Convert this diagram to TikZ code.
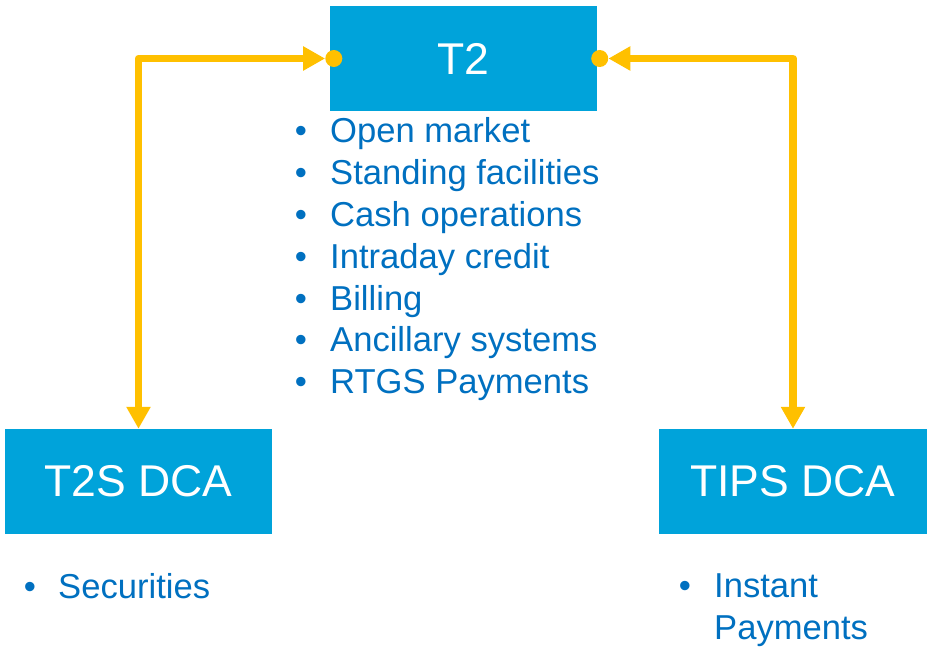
\documentclass[tikz,border=0pt]{standalone}
\usepackage{fontspec}
\setmainfont{Liberation Sans}
\usetikzlibrary{arrows.meta}
\definecolor{boxblue}{RGB}{0,163,218}
\definecolor{txtblue}{RGB}{0,112,192}
\definecolor{conyel}{RGB}{255,192,0}
\begin{document}
\begin{tikzpicture}[x=1pt,y=-1pt,
  sysbox/.style={fill=boxblue,draw=none,minimum width=267pt,minimum height=105pt,inner sep=0pt,
    text=white,font=\fontsize{44.5}{52}\selectfont},
  item/.style={anchor=base west,inner sep=0pt,text=txtblue,font=\fontsize{34.6}{41}\selectfont},
  bul/.style={anchor=base,inner sep=0pt,text=txtblue,font=\fontsize{34.6}{41}\selectfont},
  dotc/.style={circle,fill=conyel,draw=none,minimum size=17pt,inner sep=0pt},
  conn/.style={draw=conyel,line width=7.5pt,line join=round,
    arrows={Triangle[length=22pt,width=23pt]-Triangle[length=22pt,width=23pt]}}
]
\useasboundingbox (0,0) rectangle (930,647);
\node[sysbox] (t2) at (463.5,58.5) {T2};
\node[sysbox] (t2s) at (138.5,481.5) {T2S DCA};
\node[sysbox,minimum width=268pt] (tips) at (793,481.5) {TIPS DCA};
\node[dotc] (dl) at ([xshift=4pt]t2.west) {};
\node[dotc] (dr) at ([xshift=2.5pt]t2.east) {};
\draw[conn] (dl.west) -| (t2s.north);
\draw[conn] (dr.east) -| (tips.north);
\foreach \t [count=\i] in {Open market,Standing facilities,Cash operations,Intraday credit,Billing,Ancillary systems,RTGS Payments}{
  \pgfmathsetmacro{\yy}{143+(\i-1)*41.8}
  \node[bul] (b\i) at (301,\yy) {•};
  \node[item] (o\i) at (330,\yy) {\t};
}
\node[bul] (bs) at (30,598) {•};
\node[item] (sec) at (58,598) {Securities};
\node[bul] (bi) at (685,597) {•};
\node[item] (ins) at (714,597) {Instant};
\node[item] (pay) at (714,639) {Payments};
\end{tikzpicture}
\end{document}
